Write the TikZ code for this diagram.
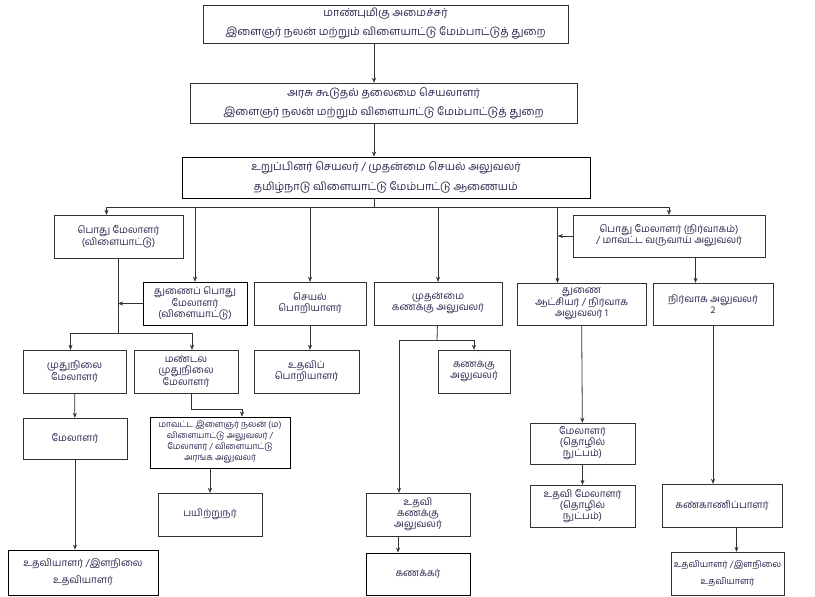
\documentclass[tikz,border=0pt]{standalone}
\usepackage{fontspec}
\newfontfamily\tamilfont[Script=Tamil]{Hind Madurai}
\usetikzlibrary{arrows.meta}
\definecolor{ink}{RGB}{40,40,80}
\definecolor{edge}{RGB}{50,50,50}
\tikzset{
  box/.style={draw=edge, fill=white, align=center, inner sep=1bp,
    font=\tamilfont\fontsize{10}{11}\selectfont, text=ink},
  heavybox/.style={box, draw=black, thick},
  topbox/.style={box, font=\tamilfont\fontsize{11}{12}\selectfont},
  link/.style={draw=edge, -{Stealth[length=5bp,width=4bp]}},
}

\begin{document}
\begin{tikzpicture}[x=1bp,y=-1bp]
\fill[white] (0,0) rectangle (815,597); % page

% top of the chart
\node[topbox, minimum width=365bp, minimum height=38bp] (minister) at (385.5,24) {மாண்புமிகு அமைச்சர்\\[7bp]இளைஞர் நலன் மற்றும் விளையாட்டு மேம்பாட்டுத் துறை};
\node[topbox, minimum width=387bp, minimum height=40bp] (secretary) at (383.5,103) {அரசு கூடுதல் தலைமை செயலாளர்\\[7bp]இளைஞர் நலன் மற்றும் விளையாட்டு மேம்பாட்டுத் துறை};
\node[topbox, draw=black, thick, minimum width=408bp, minimum height=41bp] (member) at (386,177.5) {உறுப்பினர் செயலர் / முதன்மை செயல் அலுவலர்\\[7bp]தமிழ்நாடு விளையாட்டு மேம்பாட்டு ஆணையம்};

% second level
\node[box, minimum width=129bp, minimum height=43bp] (gmsport) at (118.5,236.5) {பொது மேலாளர்\\(விளையாட்டு)};
\node[heavybox, minimum width=104bp, minimum height=43bp] (dgm) at (195,303.5) {துணைப் பொது\\மேலாளர்\\(விளையாட்டு)};
\node[box, minimum width=112bp, minimum height=43bp] (ee) at (310,303.5) {செயல்\\பொறியாளர்};
\node[box, minimum width=128bp, minimum height=43bp] (cao) at (438,303.5) {முதன்மை\\கணக்கு அலுவலர்};
\node[box, minimum width=129bp, minimum height=42bp] (collector) at (581.5,304) {துணை\\ஆட்சியர் / நிர்வாக\\அலுவலர் 1};
\node[box, minimum width=120bp, minimum height=42bp] (ao2) at (713,304) {நிர்வாக அலுவலர்\\2};
\node[box, minimum width=192bp, minimum height=42bp] (gmadmin) at (669,236) {பொது மேலாளர் (நிர்வாகம்)\\/ மாவட்ட வருவாய் அலுவலர்};

% third level
\node[box, minimum width=103bp, minimum height=43bp] (snrmgr) at (74.5,371.5) {முதுநிலை\\மேலாளர்};
\node[box, minimum width=104bp, minimum height=43bp] (zonal) at (186,371.5) {மண்டல\\முதுநிலை\\மேலாளர்};
\node[box, minimum width=105bp, minimum height=43bp] (ae) at (306.5,371.5) {உதவிப்\\பொறியாளர்};
\node[box, minimum width=72bp, minimum height=43bp] (ao) at (474,371.5) {கணக்கு\\அலுவலர்};

% lower levels
\node[box, minimum width=104bp, minimum height=41bp] (manager) at (75,438.5) {மேலாளர்};
\node[heavybox, font=\tamilfont\fontsize{8.6}{11}\selectfont, minimum width=140bp, minimum height=51bp] (district) at (220,442.5) {மாவட்ட இளைஞர் நலன் (ம)\\விளையாட்டு அலுவலர் /\\மேலாளர் / விளையாட்டு\\அரங்க அலுவலர்};
\node[box, minimum width=104bp, minimum height=43bp] (trainer) at (210,514.5) {பயிற்றுநர்};
\node[heavybox, minimum width=150bp, minimum height=45bp] (asst1) at (83,572.5) {உதவியாளர் /இளநிலை\\[6bp]உதவியாளர்};
\node[box, minimum width=105bp, minimum height=41bp] (techmgr) at (582.5,443.5) {மேலாளர்\\(தொழில்\\நுட்பம்)};
\node[box, minimum width=105bp, minimum height=42bp] (atechmgr) at (582.5,506) {உதவி மேலாளர்\\(தொழில்\\நுட்பம்)};
\node[box, minimum width=104bp, minimum height=43bp] (aao) at (418,514.5) {உதவி\\கணக்கு\\அலுவலர்};
\node[heavybox, minimum width=104bp, minimum height=42bp] (accountant) at (418,574) {கணக்கர்};
\node[box, minimum width=120bp, minimum height=43bp] (supdt) at (722,505.5) {கண்காணிப்பாளர்};
\node[box, font=\tamilfont\fontsize{9}{11}\selectfont, minimum width=113bp, minimum height=43bp] (asst2) at (727.5,573.5) {உதவியாளர் /இளநிலை\\[6bp]உதவியாளர்};

% connectors from the top
\coordinate (axis) at (374,0);
\coordinate (bus) at (374,207);
\draw[link] (minister.south -| axis) -- (secretary.north -| axis);
\draw[link] (secretary.south -| axis) -- (member.north -| axis);
\draw[edge] (member.south -| axis) -- (bus);
\draw[link] (bus) -| ([xshift=-12bp]gmsport.north);
\draw[link] (bus) -| (dgm);
\draw[link] (bus) -| (ee);
\draw[link] (bus) -| (cao);
\draw[link] (bus) -| ([xshift=-24bp]collector.north);
\draw[link] (bus) -| (gmadmin);
\draw[link] (gmadmin.west) -- ++(-15,0); % to the line on its left

% sports side
\coordinate (split) at (118,333);
\draw[edge] (gmsport.south -| split) -- (split);
\draw[link] (dgm.west) -- (dgm.west -| split);
\draw[link] (split) -| ([xshift=-4bp]snrmgr.north);
\draw[link] (split) -| ([xshift=6bp]zonal.north);
\draw[link, thick] (snrmgr) -- (manager);
\draw[link, thick] (manager) -- (manager |- asst1.north);
\draw[link] ([xshift=5bp]zonal.south) -- ++(0,16) -| ([xshift=22bp]district.north);
\draw[link] (district.south -| trainer) -- (trainer);

% engineering and accounts
\draw[link] (ee) -- (ee |- ae.north);
\coordinate (acsplit) at (437,340);
\draw[edge, thick] (cao) -- (acsplit);
\draw[link] (acsplit) -| (ao);
\draw[link] (acsplit) -| ([xshift=-19bp]aao.north);
\draw[link, thick] ([xshift=-20bp]aao.south) -- ([xshift=-20bp]accountant.north);

% administration side
\draw[link, thick] (collector) -- (techmgr);
\draw[link, thick] (techmgr) -- (atechmgr);
\draw[link, semithick] ([xshift=26.5bp]gmadmin.south) -- ([xshift=-17.5bp]ao2.north);
\draw[link] (ao2) -- (ao2 |- supdt.north);
\draw[link, semithick] ([xshift=14.5bp]supdt.south) -- ([xshift=9bp]asst2.north);
\end{tikzpicture}
\end{document}
